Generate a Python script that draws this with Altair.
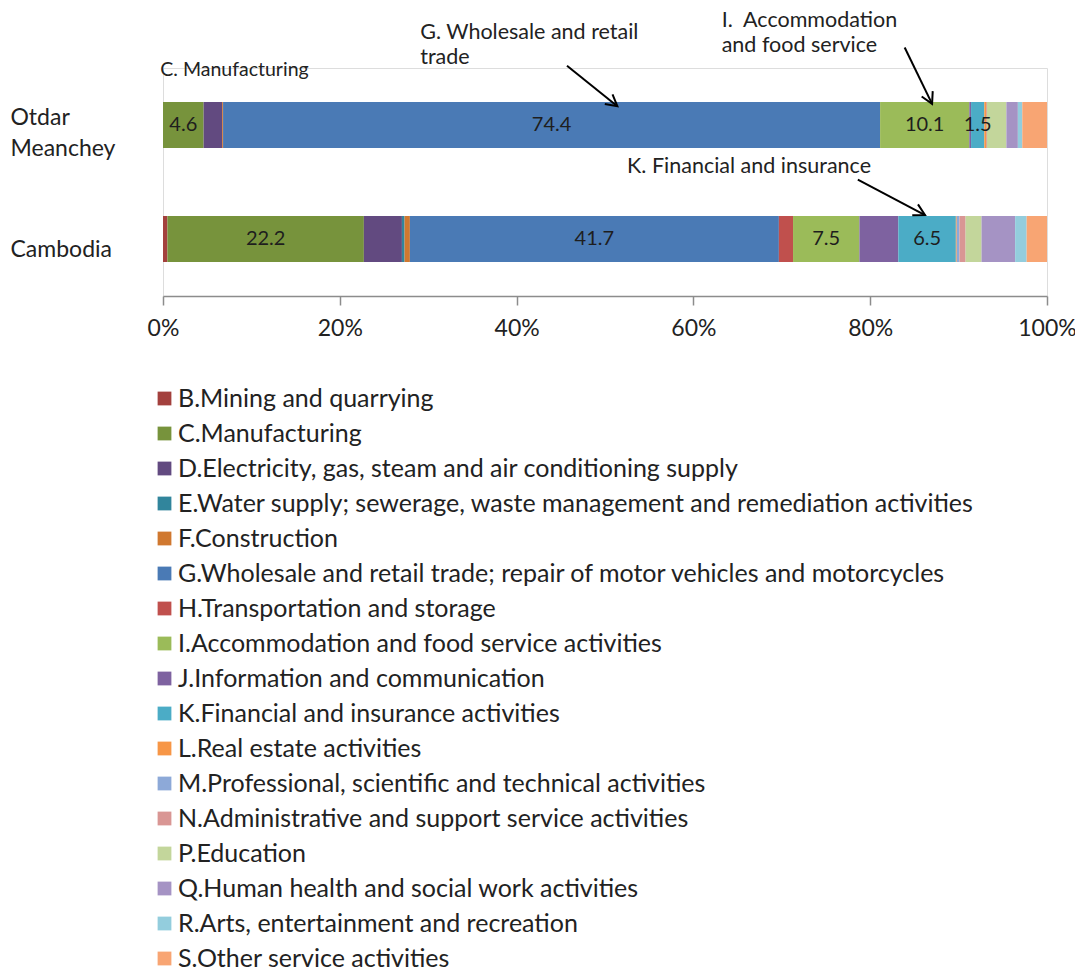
import math
import altair as alt
import pandas as pd

# ---------------- data ----------------
regions = ["Otdar Meanchey", "Cambodia"]

sectors = [
    "B.Mining and quarrying",
    "C.Manufacturing",
    "D.Electricity, gas, steam and air conditioning supply",
    "E.Water supply; sewerage, waste management and remediation activities",
    "F.Construction",
    "G.Wholesale and retail trade; repair of motor vehicles and motorcycles",
    "H.Transportation and storage",
    "I.Accommodation and food service activities",
    "J.Information and communication",
    "K.Financial and insurance activities",
    "L.Real estate activities",
    "M.Professional, scientific and technical activities",
    "N.Administrative and support service activities",
    "P.Education",
    "Q.Human health and social work activities",
    "R.Arts, entertainment and recreation",
    "S.Other service activities",
]

otdar_values = [0.0, 4.6, 2.1, 0.0, 0.1, 74.4, 0.0, 10.1, 0.2, 1.5, 0.2, 0.0, 0.1, 2.2, 1.3, 0.5, 2.8]
cambodia_values = [0.5, 22.2, 4.3, 0.3, 0.6, 41.7, 1.6, 7.5, 4.4, 6.5, 0.1, 0.3, 0.7, 1.8, 3.8, 1.3, 2.3]

otdar_labels = ["", "4.6", "", "", "", "74.4", "", "10.1", "", "1.5", "", "", "", "", "", "", ""]
cambodia_labels = ["", "22.2", "", "", "", "41.7", "", "7.5", "", "6.5", "", "", "", "", "", "", ""]

colors = [
    "#A3403D", "#77933C", "#624A80", "#31859C", "#D0782F", "#4A7AB5",
    "#C0504D", "#9BBB59", "#7E62A0", "#4BACC6", "#F79646", "#8DA9D8",
    "#D99694", "#C3D69B", "#A593C4", "#93CDDD", "#F8A573",
]

# annotation texts (x in %, row in category units: 1 = first bar, 2 = second bar)
ann_text = ["C. Manufacturing", "G. Wholesale and retail", "trade",
            "I.\u00a0 Accommodation", "and food service", "K. Financial and insurance"]
ann_x = [-0.3, 29.1, 29.1, 63.2, 63.2, 52.5]
ann_row = [0.52, 0.19, 0.415, 0.085, 0.305, 1.37]

# arrows: tail (x, row) -> tip (x2, row2)
arrow_x = [45.7, 83.9, 78.6]
arrow_row = [0.48, 0.32, 1.48]
arrow_x2 = [51.4, 87.0, 86.2]
arrow_row2 = [0.835, 0.815, 1.79]

# ---------------- layout ----------------
WIDTH = 884
HEIGHT = 228
FONT = "Lato"

rows = []
for r, vals, labs in [(regions[0], otdar_values, otdar_labels), (regions[1], cambodia_values, cambodia_labels)]:
    for i, (s, v, l) in enumerate(zip(sectors, vals, labs)):
        rows.append({"region": r, "sector": s, "value": v, "label": l, "idx": i})
df = pd.DataFrame(rows)

ann_df = pd.DataFrame({"text": ann_text, "x": [v / 100 for v in ann_x], "row": ann_row})

angles = []
for x1, y1, x2, y2 in zip(arrow_x, arrow_row, arrow_x2, arrow_row2):
    dx = (x2 - x1) / 100 * WIDTH
    dy = (y2 - y1) / 2 * HEIGHT
    angles.append(math.degrees(math.atan2(-dx, dy)) % 360)
arrow_df = pd.DataFrame({
    "x": [v / 100 for v in arrow_x], "row": arrow_row,
    "x2": [v / 100 for v in arrow_x2], "row2": arrow_row2,
    "ang": angles,
})

xscale = alt.Scale(domain=[0, 1], nice=False, zero=True)
yq = alt.Scale(domain=[0.5, 2.5], reverse=True, nice=False, zero=False)
yband = alt.Scale(paddingInner=0.596, paddingOuter=0.298)

bars = alt.Chart(df).mark_bar().encode(
    x=alt.X("value:Q", stack="normalize", scale=xscale,
            axis=alt.Axis(format=".0%", values=[0, 0.2, 0.4, 0.6, 0.8, 1.0], grid=False,
                          title=None, domainColor="#8c8c8c", domainWidth=1.5,
                          tickColor="#8c8c8c", tickWidth=1.5, tickSize=9,
                          labelFontSize=23, labelColor="#222222", labelPadding=12,
                          labelFont=FONT, labelFlush=False)),
    y=alt.Y("region:N", sort=regions, scale=yband,
            axis=alt.Axis(title=None, domain=False, ticks=False, tickSize=0,
                          labelAlign="left", labelPadding=153, labelFontSize=23,
                          labelColor="#222222", labelFont=FONT,
                          labelExpr="split(datum.label, ' ')", labelLineHeight=31,
                          labelOffset={"condition": {"test": "datum.value == 'Cambodia'", "value": 11},
                                       "value": -7})),
    color=alt.Color("sector:N", scale=alt.Scale(domain=sectors, range=colors),
                    legend=alt.Legend(orient="none", legendX=-11, legendY=318, title=None,
                                      symbolType="square", symbolSize=190,
                                      symbolStrokeWidth=0, labelFontSize=25,
                                      labelFont=FONT, labelColor="#222222",
                                      labelLimit=1000, rowPadding=9, labelOffset=1)),
    order=alt.Order("idx:Q"),
)

labels = alt.Chart(df).transform_stack(
    stack="value", groupby=["region"], sort=[alt.SortField("idx")],
    as_=["v0", "v1"], offset="normalize",
).transform_calculate(
    mid="(datum.v0 + datum.v1) / 2"
).transform_filter(
    "datum.label != ''"
).mark_text(fontSize=20, font=FONT, color="#1e1e1e", baseline="middle", align="center").encode(
    x=alt.X("mid:Q", scale=xscale),
    y=alt.Y("region:N", sort=regions, scale=yband),
    text="label:N",
)

ann = alt.Chart(ann_df).mark_text(font=FONT, color="#222222",
                                  align="left", baseline="middle").encode(
    x=alt.X("x:Q", scale=xscale),
    y=alt.Y("row:Q", scale=yq, axis=None),
    text="text:N",
    size=alt.condition(alt.datum.text == "C. Manufacturing", alt.value(19.5), alt.value(21.5)),
)

shafts = alt.Chart(arrow_df).mark_rule(color="black", strokeWidth=2).encode(
    x=alt.X("x:Q", scale=xscale),
    x2="x2:Q",
    y=alt.Y("row:Q", scale=yq, axis=None),
    y2="row2:Q",
)

heads = alt.Chart(arrow_df).mark_point(
    shape="M -0.55 -1 L 0 0 L 0.55 -1", filled=False, stroke="black",
    strokeWidth=2, size=500, opacity=1,
).encode(
    x=alt.X("x2:Q", scale=xscale),
    y=alt.Y("row2:Q", scale=yq, axis=None),
    angle=alt.Angle("ang:Q", scale=None),
)

chart = alt.layer(
    alt.layer(bars, labels),
    alt.layer(ann, shafts, heads),
).resolve_scale(
    y="independent"
).properties(
    width=WIDTH, height=HEIGHT,
    autosize=alt.AutoSizeParams(type="none"),
    padding={"left": 155, "top": 60, "right": 28, "bottom": 672},
).configure_view(stroke=None).configure(font=FONT)

chart.save("out.html", embed_options={"renderer": "svg", "actions": False})
